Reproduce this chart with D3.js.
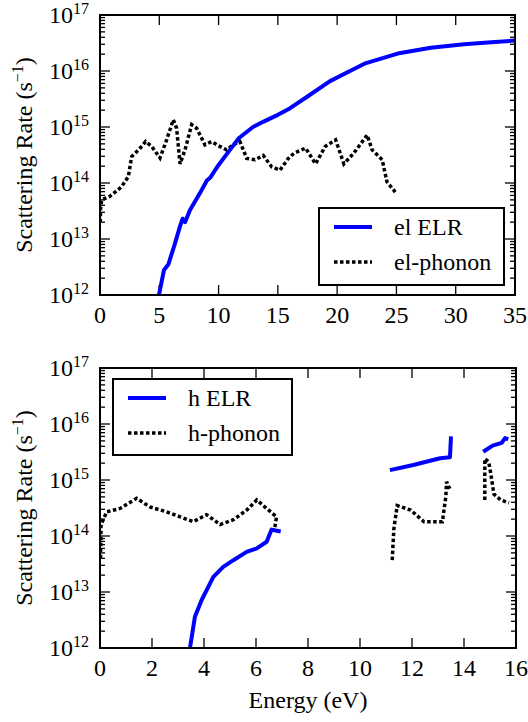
<!DOCTYPE html>
<html>
<head>
<meta charset="UTF-8">
<script src="https://d3js.org/d3.v7.js"></script>
</head>
<body>
<svg></svg>
<script>
        // electrons (top panel): [energy eV, rate s^-1]
        const elELR = [
            [4.97, 1.0e12], [5.4, 2.8e12], [5.76, 3.5e12], [6.3, 8e12], [6.75, 1.7e13],
            [6.97, 2.3e13], [7.17, 2.0e13], [7.59, 3.3e13], [8.43, 6.6e13], [9.0, 1.1e14],
            [9.3, 1.25e14], [10.0, 2.1e14], [10.96, 3.9e14], [11.7, 6.3e14], [12.9, 1.0e15],
            [13.8, 1.25e15], [15.0, 1.65e15], [16.0, 2.15e15], [17.5, 3.5e15], [19.4, 6.6e15],
            [21.0, 9.8e15], [22.3, 1.35e16], [25.1, 2.05e16], [27.9, 2.6e16], [30.7, 3.0e16],
            [33.0, 3.25e16], [35.0, 3.5e16]
        ];
        const elPhonon = [
            [0.02, 2.0e13], [0.05, 3.5e13], [0.14, 5.0e13], [0.84, 5.8e13], [1.8, 8.5e13],
            [2.39, 1.3e14], [2.67, 2.95e14], [3.3, 4.0e14], [3.85, 5.5e14], [4.36, 4.5e14],
            [5.06, 2.8e14], [5.62, 5.9e14], [6.18, 1.35e15], [6.46, 9.5e14], [6.75, 2.2e14],
            [7.17, 3.9e14], [7.73, 1.1e15], [8.15, 9.5e14], [8.85, 4.8e14], [9.4, 5.5e14],
            [10.1, 4.5e14], [10.68, 3.9e14], [11.24, 4.8e14], [11.8, 5.5e14], [12.37, 2.75e14],
            [13.07, 2.6e14], [13.77, 3.1e14], [14.47, 1.95e14], [15.18, 1.7e14], [15.88, 2.75e14],
            [16.36, 3.4e14], [17.34, 4.2e14], [18.18, 2.2e14], [19.0, 4.5e14], [19.87, 5.9e14],
            [20.57, 2.2e14], [21.4, 3.4e14], [22.53, 7.2e14], [22.95, 3.9e14], [23.8, 2.6e14],
            [24.2, 1.05e14], [24.9, 6.9e13]
        ];

        // holes (bottom panel), null = gap between branches
        const hELR = [
            [3.46, 1.0e12], [3.65, 3.6e12], [3.91, 7.2e12], [4.36, 1.86e13], [4.74, 2.8e13],
            [5.13, 3.7e13], [5.64, 5.2e13], [6.03, 6.0e13], [6.41, 7.9e13], [6.6, 1.3e14],
            [6.76, 1.25e14], [6.95, 1.2e14],
            null,
            [11.15, 1.5e15], [12.05, 1.85e15], [13.08, 2.45e15], [13.46, 2.55e15], [13.5, 6.0e15],
            null,
            [14.74, 3.2e15], [15.1, 4.1e15], [15.45, 4.6e15], [15.58, 5.6e15], [15.7, 5.3e15]
        ];
        const hPhonon = [
            [0.02, 4e13], [0.04, 1.6e14], [0.26, 2.7e14], [0.77, 3.1e14], [1.41, 4.7e14],
            [1.92, 3.3e14], [2.56, 2.7e14], [3.08, 2.2e14], [3.59, 1.8e14], [4.1, 2.4e14],
            [4.62, 1.6e14], [5.13, 1.95e14], [5.64, 2.9e14], [6.03, 4.4e14], [6.41, 3.1e14],
            [6.79, 2.2e14], [6.72, 1.4e14],
            null,
            [11.24, 3.7e13], [11.3, 1.3e14], [11.43, 3.5e14], [11.95, 2.9e14], [12.46, 1.8e14],
            [13.17, 1.8e14], [13.3, 5.0e14], [13.33, 9.3e14], [13.45, 7e14],
            null,
            [14.8, 4.4e14], [14.8, 2.4e15], [14.95, 2.1e15], [15.03, 1.3e15], [15.15, 5.6e14],
            [15.41, 4.4e14], [15.73, 3.9e14]
        ];

        const xTicksTop = [0, 5, 10, 15, 20, 25, 30, 35];
        const xTicksBottom = [0, 2, 4, 6, 8, 10, 12, 14, 16];
        const yDecades = [12, 13, 14, 15, 16, 17];

        const faces = ["Liberation Serif"];
        const width = 528, height = 722;
        d3.select("body").style("margin", "0px");
        const svg = d3.select("svg")
            .attr("width", width).attr("height", height);

        // text with the serif face, set the same way as the font test page
        function txt(sel) {
            return sel.selectAll(null).data(faces).enter().append("text")
                .attr("font-family", d => d);
        }

        function drawPanel(cfg) {
            const x = d3.scaleLinear().domain(cfg.xDomain).range([cfg.left, cfg.right]);
            const y = d3.scaleLog().domain([1e12, 1e17]).range([cfg.bottom, cfg.top]);
            const g = svg.append("g");

            // minor log ticks
            const minor = [];
            yDecades.slice(0, -1).forEach(e => {
                for (let m = 2; m <= 9; m++) minor.push(m * Math.pow(10, e));
            });
            const majors = yDecades.map(e => Math.pow(10, e));

            const tickStroke = s => s.attr("stroke", "#000").attr("stroke-width", 1.3);

            g.selectAll(".minL").data(minor).join("line")
                .attr("x1", cfg.left).attr("x2", cfg.left + 5)
                .attr("y1", d => y(d)).attr("y2", d => y(d)).call(tickStroke);
            g.selectAll(".minR").data(minor).join("line")
                .attr("x1", cfg.right).attr("x2", cfg.right - 5)
                .attr("y1", d => y(d)).attr("y2", d => y(d)).call(tickStroke);
            g.selectAll(".majL").data(majors).join("line")
                .attr("x1", cfg.left).attr("x2", cfg.left + 10)
                .attr("y1", d => y(d)).attr("y2", d => y(d)).call(tickStroke);
            g.selectAll(".majR").data(majors).join("line")
                .attr("x1", cfg.right).attr("x2", cfg.right - 10)
                .attr("y1", d => y(d)).attr("y2", d => y(d)).call(tickStroke);
            g.selectAll(".xB").data(cfg.xTicks).join("line")
                .attr("x1", d => x(d)).attr("x2", d => x(d))
                .attr("y1", cfg.bottom).attr("y2", cfg.bottom - 10).call(tickStroke);
            g.selectAll(".xT").data(cfg.xTicks).join("line")
                .attr("x1", d => x(d)).attr("x2", d => x(d))
                .attr("y1", cfg.top).attr("y2", cfg.top + 10).call(tickStroke);

            // y tick labels 10^n
            yDecades.forEach(d => {
                const t = txt(g)
                    .attr("x", cfg.left - 11)
                    .attr("y", y(Math.pow(10, d)) + 8)
                    .attr("text-anchor", "end")
                    .attr("font-size", 24);
                t.append("tspan").text("10");
                t.append("tspan").attr("dy", -9).attr("font-size", 16).text(d);
            });

            // x tick labels
            cfg.xTicks.forEach(d => {
                txt(g)
                    .attr("x", x(d))
                    .attr("y", cfg.bottom + 28)
                    .attr("text-anchor", "middle")
                    .attr("font-size", 24)
                    .text(d);
            });

            // y label
            const lab = txt(g)
                .attr("transform", `translate(32,${(cfg.top + cfg.bottom) / 2}) rotate(-90)`)
                .attr("text-anchor", "middle")
                .attr("font-size", 24);
            lab.append("tspan").text("Scattering Rate (s");
            lab.append("tspan").attr("dy", -9).attr("font-size", 16).text("\u22121");
            lab.append("tspan").attr("dy", 9).text(")");

            // clip
            const clipId = "clip" + cfg.id;
            svg.append("clipPath").attr("id", clipId).append("rect")
                .attr("x", cfg.left).attr("y", cfg.top)
                .attr("width", cfg.right - cfg.left).attr("height", cfg.bottom - cfg.top);

            const line = d3.line()
                .defined(d => d !== null)
                .x(d => x(d[0])).y(d => y(d[1]));

            const plot = g.append("g").attr("clip-path", `url(#${clipId})`);
            plot.append("path").datum(cfg.phonon)
                .attr("d", line).attr("fill", "none")
                .attr("stroke", "#000").attr("stroke-width", 3.5)
                .attr("stroke-dasharray", "3.5,2.5");
            plot.append("path").datum(cfg.elr)
                .attr("d", line).attr("fill", "none")
                .attr("stroke", "#0000ff").attr("stroke-width", 4)
                .attr("stroke-linejoin", "round");

            // frame
            g.append("rect")
                .attr("x", cfg.left).attr("y", cfg.top)
                .attr("width", cfg.right - cfg.left).attr("height", cfg.bottom - cfg.top)
                .attr("fill", "none").attr("stroke", "#000").attr("stroke-width", 2);

            // legend
            const L = cfg.legend;
            const lg = g.append("g");
            lg.append("rect").attr("x", L.x).attr("y", L.y).attr("width", L.w).attr("height", L.h)
                .attr("fill", "#fff").attr("stroke", "#000").attr("stroke-width", 2);
            const items = [
                { label: cfg.labels[0], color: "#0000ff", dash: null, w: 4 },
                { label: cfg.labels[1], color: "#000", dash: "3.5,2.5", w: 3.5 }
            ];
            items.forEach((it, i) => {
                const yy = L.y + 19 + i * 35;
                lg.append("line")
                    .attr("x1", L.x + 15).attr("x2", L.x + 53)
                    .attr("y1", yy).attr("y2", yy)
                    .attr("stroke", it.color).attr("stroke-width", it.w)
                    .attr("stroke-dasharray", it.dash);
                txt(lg)
                    .attr("x", L.x + 75).attr("y", yy + 8)
                    .attr("font-size", 24)
                    .text(it.label);
            });
        }

        drawPanel({
            id: "top", left: 100, right: 515, top: 15, bottom: 295,
            xDomain: [0, 35], xTicks: xTicksTop,
            elr: elELR, phonon: elPhonon,
            labels: ["el ELR", "el-phonon"],
            legend: { x: 319, y: 208, w: 185, h: 77 }
        });

        drawPanel({
            id: "bot", left: 100, right: 516, top: 368, bottom: 648,
            xDomain: [0, 16], xTicks: xTicksBottom,
            elr: hELR, phonon: hPhonon,
            labels: ["h ELR", "h-phonon"],
            legend: { x: 113, y: 379, w: 179, h: 76 }
        });

        txt(svg)
            .attr("x", 308).attr("y", 708)
            .attr("text-anchor", "middle")
            .attr("font-size", 24)
            .text("Energy (eV)");
</script>
</body>
</html>
